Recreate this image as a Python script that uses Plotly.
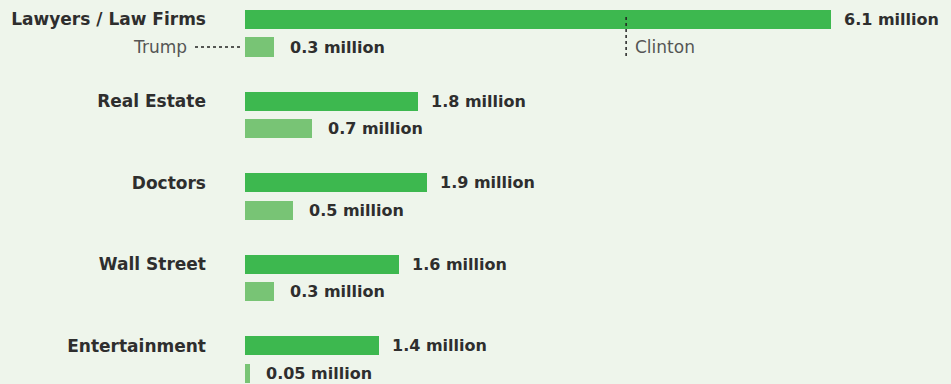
import plotly.graph_objects as go

categories = ["Lawyers / Law Firms", "Real Estate", "Doctors", "Wall Street", "Entertainment"]
clinton = [6.1, 1.8, 1.9, 1.6, 1.4]
trump = [0.3, 0.7, 0.5, 0.3, 0.05]
clinton_labels = ["6.1 million", "1.8 million", "1.9 million", "1.6 million", "1.4 million"]
trump_labels = ["0.3 million", "0.7 million", "0.5 million", "0.3 million", "0.05 million"]

BG = "#eef5eb"
C_GREEN = "#3db84f"
T_GREEN = "#78c475"
TXT = "#2e2e2e"
FONT = "DejaVu Sans"

W = 0.233
fig = go.Figure()
fig.add_trace(go.Bar(y=categories, x=clinton, orientation="h", width=W, offset=-W / 2,
                     marker=dict(color=C_GREEN, line=dict(width=0)), name="Clinton",
                     hoverinfo="skip"))
fig.add_trace(go.Bar(y=categories, x=trump, orientation="h", width=W, offset=0.337 - W / 2,
                     marker=dict(color=T_GREEN, line=dict(width=0)), name="Trump",
                     hoverinfo="skip"))

annotations = []
for i, (c, t, cl, tl) in enumerate(zip(clinton, trump, clinton_labels, trump_labels)):
    annotations.append(dict(x=c, y=i, xref="x", yref="y", text="<b>" + cl + "</b>", showarrow=False,
                            xanchor="left", yanchor="middle", xshift=11,
                            font=dict(family=FONT, size=16, color=TXT)))
    annotations.append(dict(x=t, y=i + 0.337, xref="x", yref="y", text="<b>" + tl + "</b>", showarrow=False,
                            xanchor="left", yanchor="middle", xshift=14,
                            font=dict(family=FONT, size=16, color=TXT)))

annotations.append(dict(x=0, y=0.337, xref="x", yref="y", text="Trump", showarrow=False,
                        xanchor="right", yanchor="middle", xshift=-56,
                        font=dict(family=FONT, size=17, color="#555555")))
annotations.append(dict(x=3.97, y=0.337, xref="x", yref="y", text="Clinton", showarrow=False,
                        xanchor="left", yanchor="middle", xshift=7,
                        font=dict(family=FONT, size=17, color="#555555")))

shapes = [
    dict(type="line", xref="paper", yref="y", x0=-50 / 706, x1=-3 / 706, y0=0.337, y1=0.337,
         line=dict(color="#222222", width=1.5, dash="dot")),
    dict(type="line", xref="x", yref="y", x0=3.97, x1=3.97, y0=-0.03, y1=0.46,
         line=dict(color="#222222", width=1.5, dash="dot")),
]

fig.update_layout(
    width=951, height=384,
    margin=dict(l=245, r=0, t=0, b=0),
    paper_bgcolor=BG, plot_bgcolor=BG,
    showlegend=False,
    bargap=0,
    annotations=annotations,
    shapes=shapes,
    xaxis=dict(range=[0, 706 / 96], visible=False, fixedrange=True),
    yaxis=dict(type="category", categoryarray=categories, range=[4.467, -0.239],
               showgrid=False, zeroline=False, showline=False, ticks="",
               ticklabelstandoff=38,
               tickfont=dict(family=FONT, size=17, color=TXT, weight="bold")),
)

fig.write_html("out.html")
